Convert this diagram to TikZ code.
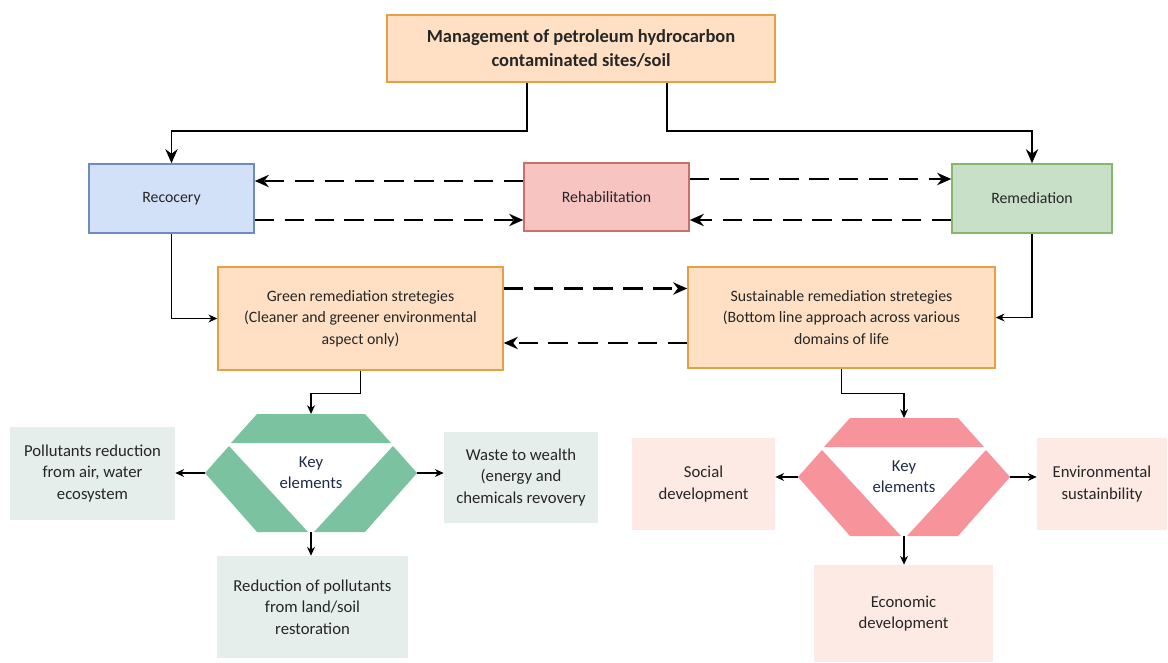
\documentclass[tikz,border=0pt]{standalone}
\usepackage{fontspec}
\setmainfont{Carlito}
\usetikzlibrary{arrows.meta,calc}

\definecolor{orgfill}{HTML}{FFE0C4}
\definecolor{orgdraw}{HTML}{E3A046}
\definecolor{bluefill}{HTML}{D2E0F8}
\definecolor{bluedraw}{HTML}{6C8EBF}
\definecolor{redfill}{HTML}{F8C4C2}
\definecolor{reddraw}{HTML}{C8706C}
\definecolor{grnfill}{HTML}{C9E0C8}
\definecolor{grndraw}{HTML}{86B56C}
\definecolor{hexgreen}{HTML}{7BC3A0}
\definecolor{hexred}{HTML}{F7939B}
\definecolor{palegreen}{HTML}{E5EEEA}
\definecolor{palepink}{HTML}{FEEAE5}
\definecolor{keytext}{HTML}{1F2A48}

% hexagon of key elements: name, centre, colour
\newcommand{\keyhex}[3]{%
  \begin{scope}[shift={#2}]
    \fill[#3] (-54,-59) -- (54,-59) -- (80,-30) -- (-80,-30) -- cycle;
    \fill[#3] (-82,-27) -- (-106,0) -- (-54,59) -- (-3,59) -- cycle;
    \fill[#3] (82,-27) -- (106,0) -- (54,59) -- (3,59) -- cycle;
    \coordinate (#1-n) at (0,-59);
    \coordinate (#1-s) at (0,59);
    \coordinate (#1-w) at (-106,0);
    \coordinate (#1-e) at (106,0);
  \end{scope}
  \node[keylbl] (#1) at #2 {Key\\elements};}

\begin{document}
\begin{tikzpicture}[
    x=0.02cm, y=-0.02cm,
    box/.style={draw, line width=0.9pt, align=center, inner sep=0pt, font=\fontsize{9}{12.2}\selectfont, text=black!85},
    orgbox/.style={box, fill=orgfill, draw=orgdraw},
    leaf/.style={align=center, inner sep=0pt, font=\fontsize{9.5}{12.2}\selectfont, text=black!85},
    keylbl/.style={align=center, inner sep=0pt, font=\fontsize{9.5}{12}\selectfont, text=keytext},
    thickarr/.style={line width=1.1pt, -{Stealth[length=8pt,width=7pt]}},
    dasharr/.style={line width=1.3pt, dash pattern=on 11pt off 6pt, -{Stealth[length=8pt,width=7pt]}},
    arr/.style={line width=0.6pt, -{Stealth[length=5pt,width=4.5pt]}}]
    \useasboundingbox (0,0) rectangle (1168,662);

    % top
    \node[orgbox, minimum width=7.76cm, minimum height=1.34cm, font=\fontsize{10.5}{14}\selectfont\bfseries] (title) at (581,48.5)
        {Management of petroleum hydrocarbon\\contaminated sites/soil};
    \node[box, fill=bluefill, draw=bluedraw, minimum width=3.3cm, minimum height=1.38cm] (rec) at (171.5,198.5) {Recocery};
    \node[box, fill=redfill, draw=reddraw, minimum width=3.3cm, minimum height=1.36cm] (reh) at (606.5,197) {Rehabilitation};
    \node[box, fill=grnfill, draw=grndraw, minimum width=3.2cm, minimum height=1.38cm] (rem) at (1032,198.5) {Remediation};

    % strategies
    \node[orgbox, minimum width=5.7cm, minimum height=2.06cm] (grn) at (360.5,318.5)
        {Green remediation stretegies\\(Cleaner and greener environmental\\aspect only)};
    \node[orgbox, minimum width=6.14cm, minimum height=2.02cm] (sus) at (841.5,317.5)
        {Sustainable remediation stretegies\\(Bottom line approach across various\\domains of life};

    % key elements
    \keyhex{kg}{(311,473)}{hexgreen}
    \keyhex{kr}{(904,477)}{hexred}

    \node[leaf, fill=palegreen, minimum width=3.3cm, minimum height=1.86cm] (pol) at (92.5,473.5)
        {Pollutants reduction\\from air, water\\ecosystem};
    \node[leaf, fill=palegreen, minimum width=3.08cm, minimum height=1.82cm] (wst) at (521,477.5)
        {Waste to wealth\\(energy and\\chemicals revovery};
    \node[leaf, fill=palegreen, minimum width=3.82cm, minimum height=2.04cm] (red) at (312.5,607)
        {Reduction of pollutants\\from land/soil\\restoration};
    \node[leaf, fill=palepink, minimum width=2.86cm, minimum height=1.84cm] (soc) at (703.5,484)
        {Social\\development};
    \node[leaf, fill=palepink, minimum width=2.6cm, minimum height=1.84cm] (env) at (1102,484)
        {Environmental\\sustainbility};
    \node[leaf, fill=palepink, minimum width=3.58cm, minimum height=1.94cm] (eco) at (903.5,613.5)
        {Economic\\development};

    % connectors
    \draw[thickarr] ([xshift=-1.08cm]title.south) -- ++(0,48) -| (rec.north);
    \draw[thickarr] ([xshift=1.72cm]title.south) -- ++(0,48) -| (rem.north);
    \draw[dasharr] ([yshift=0.32cm]reh.west) -- ([yshift=0.32cm]reh.west -| rec.east);
    \draw[dasharr] ([yshift=-0.46cm]reh.west -| rec.east) -- ([yshift=-0.46cm]reh.west);
    \draw[dasharr] ([yshift=0.36cm]reh.east) -- ([yshift=0.36cm]reh.east -| rem.west);
    \draw[dasharr] ([yshift=-0.46cm]reh.east -| rem.west) -- ([yshift=-0.46cm]reh.east);
    \draw[arr] (rec.south) |- (grn.west);
    \draw[arr] (rem.south) |- (sus.east);
    \draw[dasharr] ([yshift=0.6cm]grn.east) -- ([yshift=0.6cm]grn.east -| sus.west);
    \draw[dasharr] ([yshift=-0.49cm]grn.east -| sus.west) -- ([yshift=-0.49cm]grn.east);
    \draw[arr] (grn.south) -- ++(0,23) -| (kg-n);
    \draw[arr] (sus.south) -- ++(0,25) -| (kr-n);
    \draw[arr] (kg-w) -- (kg-w -| pol.east);
    \draw[arr] (kg-e) -- (kg-e -| wst.west);
    \draw[arr] (kg-s) -- (kg-s |- red.north);
    \draw[arr] (kr-w) -- (kr-w -| soc.east);
    \draw[arr] (kr-e) -- (kr-e -| env.west);
    \draw[arr] (kr-s) -- (kr-s |- eco.north);
\end{tikzpicture}
\end{document}
